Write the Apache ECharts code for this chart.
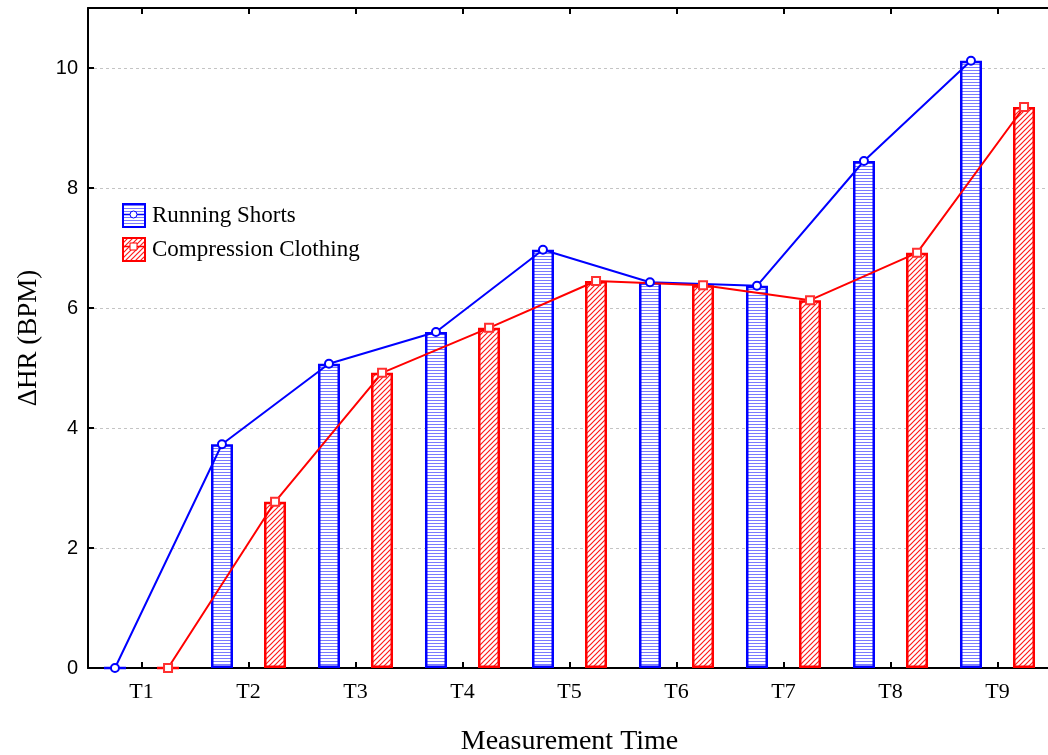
<!DOCTYPE html>
<html>
<head>
<meta charset="utf-8">
<script src="https://cdn.jsdelivr.net/npm/echarts@6/dist/echarts.min.js"></script>
<style>
  html, body { margin: 0; padding: 0; background: #fff; }
  #chart { width: 1048px; height: 755px; }
</style>
</head>
<body>
<div id="chart"></div>
<script>
// Data
const times = ['T1', 'T2', 'T3', 'T4', 'T5', 'T6', 'T7', 'T8', 'T9'];
const runningShorts = [0, 3.73, 5.07, 5.6, 6.97, 6.43, 6.37, 8.45, 10.12];
const compression = [0, 2.77, 4.92, 5.67, 6.45, 6.38, 6.13, 6.92, 9.35];
const seriesNames = ['Running Shorts', 'Compression Clothing'];

// bars sit this far (in categories) left/right of each tick
const barShift = 0.248;

// hatch fills for the bars
function hatch(kind, color) {
  const c = document.createElement('canvas');
  const ctx = c.getContext('2d');
  if (kind === 'h') {
    c.width = 4; c.height = 3;
    ctx.fillStyle = '#fff';
    ctx.fillRect(0, 0, 4, 3);
    ctx.fillStyle = color;
    ctx.fillRect(0, 1, 4, 1);
  } else {
    const s = 5;
    c.width = s; c.height = s;
    ctx.fillStyle = '#fff';
    ctx.fillRect(0, 0, s, s);
    ctx.strokeStyle = color;
    ctx.lineWidth = 1.2;
    ctx.beginPath();
    ctx.moveTo(0, s); ctx.lineTo(s, 0);
    ctx.moveTo(-1, 1); ctx.lineTo(1, -1);
    ctx.moveTo(s - 1, s + 1); ctx.lineTo(s + 1, s - 1);
    ctx.stroke();
  }
  return { image: c, repeat: 'repeat' };
}

const chart = echarts.init(document.getElementById('chart'));

const serif = 'Liberation Serif';
const sans = 'Liberation Sans';

const tickStyle = { show: true, inside: true, length: 6, lineStyle: { color: '#000', width: 2 } };

const option = {
  animation: false,
  backgroundColor: '#fff',
  grid: { left: 88, top: 8, width: 963, bottom: 87, containLabel: false, outerBoundsMode: 'none' },
  legend: {
    data: seriesNames,
    orient: 'vertical',
    left: 122,
    top: 203,
    padding: 0,
    icon: 'rect',
    itemWidth: 22,
    itemHeight: 23,
    itemGap: 9,
    textStyle: { fontFamily: serif, fontSize: 23, color: '#000', padding: [0, 0, 0, 2] }
  },
  xAxis: [
    {
      type: 'category',
      data: times,
      position: 'bottom',
      name: 'Measurement Time',
      nameLocation: 'middle',
      nameGap: 60,
      nameTextStyle: { fontFamily: serif, fontSize: 28, color: '#000' },
      axisLine: { show: true, lineStyle: { color: '#000', width: 2 } },
      axisTick: Object.assign({ alignWithLabel: true, interval: 0 }, tickStyle),
      axisLabel: { fontFamily: serif, fontSize: 22, color: '#000', margin: 13, interval: 0 },
      splitLine: { show: false }
    },
    {
      type: 'category',
      data: times,
      position: 'top',
      axisLine: { show: true, lineStyle: { color: '#000', width: 2 } },
      axisTick: Object.assign({ alignWithLabel: true, interval: 0 }, tickStyle),
      axisLabel: { show: false },
      splitLine: { show: false }
    },
    {
      type: 'value',
      min: 0.5,
      max: times.length + 0.5,
      show: false
    }
  ],
  yAxis: {
    type: 'value',
    min: 0,
    max: 11,
    interval: 2,
    name: 'ΔHR (BPM)',
    nameLocation: 'middle',
    nameGap: 46,
    nameTextStyle: { fontFamily: serif, fontSize: 27, color: '#000' },
    axisLine: { show: true, lineStyle: { color: '#000', width: 2 } },
    axisTick: tickStyle,
    axisLabel: { fontFamily: sans, fontSize: 20, color: '#000', margin: 10, showMaxLabel: false },
    splitLine: { show: true, lineStyle: { color: '#c4c4c4', type: [3, 3], width: 1 } }
  },
  graphic: [
    { type: 'line', shape: { x1: 123, y1: 214.5, x2: 144, y2: 214.5 }, style: { stroke: '#0000ff', lineWidth: 1.5 }, z: 100 },
    { type: 'circle', shape: { cx: 133.5, cy: 214.5, r: 3.5 }, style: { fill: '#fff', stroke: '#0000ff', lineWidth: 1 }, z: 101 },
    { type: 'line', shape: { x1: 123, y1: 246.5, x2: 144, y2: 246.5 }, style: { stroke: '#ff0000', lineWidth: 1.5 }, z: 100 },
    { type: 'rect', shape: { x: 130, y: 243, width: 7, height: 7 }, style: { fill: '#fff', stroke: '#ff0000', lineWidth: 1 }, z: 101 }
  ],
  series: [
    {
      name: seriesNames[0],
      type: 'bar',
      xAxisIndex: 0,
      data: runningShorts,
      barWidth: 22,
      barGap: '141%',
      itemStyle: { color: hatch('h', '#7a7aff'), borderColor: '#0000ff', borderWidth: 2.5 },
      emphasis: { disabled: true }
    },
    {
      name: seriesNames[1],
      type: 'bar',
      xAxisIndex: 0,
      data: compression,
      barWidth: 22,
      itemStyle: { color: hatch('d', '#ff1a1a'), borderColor: '#ff0000', borderWidth: 2.5 },
      emphasis: { disabled: true }
    },
    {
      name: 'Running Shorts trend',
      type: 'line',
      xAxisIndex: 2,
      data: runningShorts.map((v, i) => [i + 1 - barShift, v]),
      symbol: 'emptyCircle',
      symbolSize: 8,
      showAllSymbol: true,
      lineStyle: { color: '#0000ff', width: 2 },
      itemStyle: { color: '#0000ff', borderColor: '#0000ff', borderWidth: 1 },
      emphasis: { disabled: true },
      z: 5
    },
    {
      name: 'Compression Clothing trend',
      type: 'line',
      xAxisIndex: 2,
      data: compression.map((v, i) => [i + 1 + barShift, v]),
      symbol: 'emptyRect',
      symbolSize: 8,
      showAllSymbol: true,
      lineStyle: { color: '#ff0000', width: 2 },
      itemStyle: { color: '#ff3030', borderColor: '#ff3030', borderWidth: 1 },
      emphasis: { disabled: true },
      z: 5
    }
  ]
};

chart.setOption(option);
</script>
</body>
</html>
